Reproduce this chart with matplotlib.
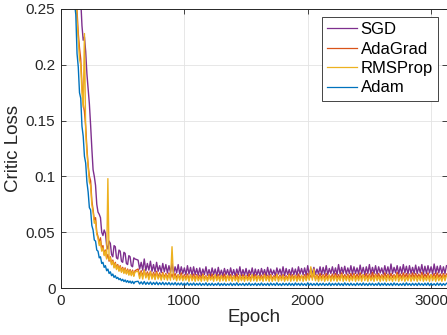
import numpy as np
import matplotlib.pyplot as plt

plt.rcParams['font.family'] = ['Liberation Sans', 'DejaVu Sans']

# Epoch grid: every 10 epochs during the drop, every 12.5 afterwards
epochs = np.concatenate([np.arange(0, 601, 10), np.arange(625, 3125.1, 12.5)])

# Critic loss, in units of 1e-3
sgd = [700, 660, 615, 585, 545, 500, 465, 445, 415, 375, 350, 335, 315, 285, 270, 268,
       258, 235, 222, 225, 212, 192, 178, 165, 146, 125, 106, 100, 92, 75, 68, 66,
       63, 50, 47, 52, 49, 38, 35, 42, 40, 30, 28, 38, 37, 27, 26, 34, 33, 24,
       23, 32, 31, 22, 21, 29, 28, 20, 19, 27, 26,
       25, 17, 23, 16, 26, 15.5, 22, 16, 24, 15, 21, 14.5, 23, 15, 20, 14, 22, 14.5, 21, 13.5,
       20, 14, 22, 13, 19, 13.5, 21, 12.5, 19, 13, 18, 12, 20, 12.5, 18.5, 11.5, 19, 12, 17.5, 11.5,
       18, 11, 17, 12, 19, 11.5, 16.5, 11, 18, 12, 17, 10.5, 18.5, 11.5, 16, 11, 17.5, 12, 16.5, 11,
       18, 11.5, 16.5, 10.5, 17, 12, 19, 11, 16.5, 11.5, 17.5, 11, 16, 12, 18, 10.5, 17, 11.5, 16.5, 11,
       17.5, 12, 16.5, 11, 18.5, 11.5, 17, 12, 16, 11, 18, 12.5, 17, 11.5, 19, 11, 17.5, 12, 16.5, 11.5,
       18, 12, 17, 11.5, 19, 12.5, 17.5, 12, 18, 11.5, 20, 12, 17.5, 12.5, 18.5, 12, 17, 12.5, 19, 12,
       18.5, 12.5, 20, 12, 17.5, 13, 19, 12.5, 18, 12, 21, 12.5, 18.5, 13, 19.5, 12.5, 18, 13, 20, 12.5,
       19, 13, 18, 12.5, 20.5, 13, 18.5, 12, 19, 13, 21, 12.5, 18.5, 13, 20, 12.5, 19, 13.5, 18, 12.5,
       20, 13, 19, 12.5, 21.5, 13, 18.5, 13.5, 20, 12.5, 19, 13, 21, 13.5, 19.5, 12.5, 20, 13, 18.5, 13,
       20.5, 13, 19, 13.5, 21, 12.5, 19.5, 13, 20, 13.5, 19, 12.5, 21.5, 13, 19.5, 13.5, 20, 13, 19, 13,
       20]
adagrad = [660, 620, 578, 540, 505, 462, 425, 395, 372, 340, 312, 292, 278, 248, 228, 215,
           205, 182, 165, 158, 145, 125, 110, 100, 96, 78, 70, 61, 63, 50, 46, 40,
           45, 35, 38, 30, 34, 27, 30, 24, 28, 21, 25, 19, 23, 17.5, 21, 16, 20, 15,
           18.5, 14, 18, 13, 17, 12.5, 16.5, 12, 16, 11, 15.5,
           17, 11, 15.5, 10.5, 16, 10, 14.5, 10.5, 15, 9.5, 14, 10, 15, 9.5, 13.5, 9, 14, 9.5, 13, 9,
           13.5, 9, 12.5, 8.5, 13, 9, 12, 8.5, 13.5, 8, 12, 8.5, 12.5, 8, 11.5, 8.5, 12.5, 8, 12, 8.5,
           11.5, 8, 12.5, 8.5, 11, 7.5, 12, 8, 12.5, 8.5, 11, 8, 12, 7.5, 11.5, 8.5, 12.5, 8, 11, 8,
           12, 7.5, 11, 8.5, 12.5, 8, 11.5, 7.5, 12, 8.5, 11, 8, 12.5, 7.5, 11.5, 8.5, 12, 8, 11, 8.5,
           11.5, 8, 12.5, 7.5, 11.5, 8.5, 12, 8, 11, 9, 12.5, 8, 11.5, 8.5, 12, 7.5, 11, 8.5, 12.5, 8,
           12, 8.5, 11.5, 8, 12.5, 9, 11, 8.5, 12, 8, 13, 8.5, 11.5, 9, 12.5, 8, 12, 8.5, 13, 8.5,
           12, 9, 13, 8.5, 11.5, 9, 12.5, 8.5, 13, 9, 12, 8.5, 13.5, 9, 12, 8.5, 12.5, 9, 13, 8.5,
           13, 9, 12.5, 8.5, 13.5, 9, 12, 9.5, 13, 9, 12.5, 8.5, 14, 9, 12.5, 9.5, 13, 9, 12, 9,
           13.5, 9.5, 12.5, 9, 13, 9.5, 12, 9, 14, 9.5, 12.5, 9, 13.5, 9.5, 13, 9, 12.5, 9.5, 13.5, 9,
           13, 9.5, 12.5, 9, 14, 9, 12.5, 9.5, 13.5, 9, 12, 9.5, 13, 9, 13.5, 9.5, 12.5, 9, 13, 9.5,
           12.5]
rmsprop = [650, 610, 565, 530, 495, 450, 415, 385, 365, 330, 305, 285, 270, 240, 222, 205,
           200, 175, 162, 228, 140, 122, 108, 95, 92, 75, 68, 58, 60, 48, 45, 38,
           42, 33, 36, 29, 33, 26, 98, 25, 27, 21, 24, 18, 22, 16.5, 20, 15, 19, 14,
           17.5, 13, 17, 12.5, 16, 11.5, 15.5, 11, 15, 10.5, 14.5,
           15, 8.5, 14, 8, 16, 9, 13, 7.5, 14.5, 8, 12.5, 7.5, 13.5, 8, 12, 7, 13, 7.5, 12, 7,
           12.5, 7, 37, 7.5, 11, 6.5, 12, 7, 11.5, 6.5, 10.5, 7, 11, 6, 12, 6.5, 10.5, 6, 11, 6.5,
           10, 6, 11.5, 6.5, 10.5, 6, 11, 7, 10, 6, 12, 6.5, 10.5, 6, 11, 6.5, 10, 6, 11.5, 6.5,
           10.5, 6, 11, 6.5, 10, 5.5, 11.5, 6.5, 10.5, 6, 11, 6.5, 10, 6, 12, 6.5, 10.5, 6, 11, 6.5,
           10, 6, 11.5, 6.5, 10.5, 6, 11, 6, 10, 6.5, 12, 6, 10.5, 6.5, 11, 6, 10, 6.5, 11.5, 6,
           10.5, 6.5, 11, 6, 10, 6.5, 11.5, 6, 10.5, 6.5, 11, 7, 19, 7, 17, 6.5, 11, 6, 10.5, 6.5,
           11, 6, 10, 6.5, 11.5, 6, 10.5, 6.5, 11, 6, 10, 6.5, 12, 6, 10.5, 6.5, 11, 6, 10, 6.5,
           11.5, 6, 10.5, 6.5, 11, 6, 12, 6.5, 10.5, 6, 11, 6.5, 10, 6, 11.5, 6.5, 10.5, 6, 11, 6.5,
           10.5, 6, 11.5, 6.5, 10, 6, 11, 6.5, 12, 6, 10.5, 6.5, 11, 6, 10, 6.5, 11.5, 6, 10.5, 6.5,
           11, 6, 10.5, 6.5, 11.5, 6, 10, 6.5, 11, 6, 12, 6.5, 10.5, 6, 11, 6.5, 10, 6, 11.5, 6.5,
           11]
adam = [600, 560, 515, 490, 455, 415, 385, 350, 335, 300, 285, 255, 245, 210, 198, 175,
        170, 145, 136, 118, 112, 95, 86, 72, 70, 56, 52, 43, 42, 34, 33, 27,
        28, 22, 23, 18.5, 20, 15.5, 17, 13, 14.5, 11, 12.5, 9.5, 11, 8.5, 9.5, 7.5, 8.5, 6.5,
        7.8, 5.8, 7.2, 5.2, 6.6, 4.8, 6.2, 4.3, 6, 3.9, 5.6,
        6, 3.6, 5.5, 3.4, 5.8, 3.2, 5.2, 3.3, 5.4, 3, 5, 3.1, 5.3, 2.9, 4.8, 3, 5.1, 2.8, 4.7, 2.9,
        4.9, 2.7, 4.5, 2.8, 4.8, 2.6, 4.4, 2.7, 4.6, 2.5, 4.3, 2.6, 4.7, 2.4, 4.2, 2.5, 4.5, 2.4, 4.1, 2.6,
        4.4, 2.3, 4, 2.5, 4.6, 2.2, 4.1, 2.4, 4.3, 2.3, 3.9, 2.5, 4.5, 2.2, 4, 2.4, 4.2, 2.3, 3.8, 2.5,
        4.4, 2.2, 4, 2.4, 4.6, 2.3, 3.9, 2.5, 4.2, 2.2, 4.1, 2.4, 4.5, 2.3, 3.8, 2.5, 4.3, 2.2, 4, 2.4,
        4.5, 2.3, 3.9, 2.4, 4.2, 2.2, 4.4, 2.5, 4, 2.3, 4.6, 2.4, 3.9, 2.2, 4.3, 2.5, 4.1, 2.3, 4.4, 2.4,
        4, 2.2, 4.5, 2.5, 4.1, 2.3, 4.3, 2.4, 3.9, 2.2, 4.6, 2.5, 4.2, 2.3, 4, 2.4, 4.4, 2.2, 4.1, 2.5,
        4.3, 2.3, 3.9, 2.4, 4.5, 2.2, 4.1, 2.5, 4.2, 2.3, 4.4, 2.4, 4, 2.2, 4.6, 2.5, 4.1, 2.3, 4.3, 2.4,
        3.9, 2.2, 4.4, 2.5, 4.1, 2.3, 4.5, 2.4, 4, 2.2, 4.3, 2.5, 4.2, 2.3, 3.9, 2.4, 4.6, 2.2, 4.1, 2.5,
        4.4, 2.3, 4, 2.4, 4.2, 2.2, 4.5, 2.5, 4.1, 2.3, 3.9, 2.4, 4.3, 2.2, 4.6, 2.5, 4, 2.3, 4.2, 2.4,
        4.1, 2.2, 4.4, 2.5, 4, 2.3, 4.3, 2.4, 4.5, 2.2, 4.1, 2.5, 3.9, 2.3, 4.4, 2.4, 4.2, 2.2, 4, 2.5,
        4.2]

labels = ['SGD', 'AdaGrad', 'RMSProp', 'Adam']
colors = ['#7E2F8E', '#D95319', '#EDB120', '#0072BD']
dark = '#262626'

fig = plt.figure(figsize=(4.47, 3.35), dpi=100)
ax = fig.add_axes([61 / 447, 47 / 335, 385.5 / 447, 279 / 335])

for y, lab, c in zip([sgd, adagrad, rmsprop, adam], labels, colors):
    ax.plot(epochs, np.array(y) / 1000, color=c, lw=1.0, label=lab)

ax.set_xlim(0, 3125)
ax.set_ylim(0, 0.25)
ax.set_xticks([0, 1000, 2000, 3000])
ax.set_yticks([0, 0.05, 0.1, 0.15, 0.2, 0.25])
ax.set_yticklabels(['0', '0.05', '0.1', '0.15', '0.2', '0.25'])
ax.grid(True, color='#e3e3e3', lw=0.6)
ax.set_axisbelow(True)
ax.tick_params(direction='in', length=3.5, width=0.6, top=True, right=True,
               labelsize=11, colors=dark, pad=4)
for s in ax.spines.values():
    s.set_color(dark)
    s.set_linewidth(0.7)

ax.set_xlabel('Epoch', fontsize=13.5, color=dark, labelpad=1)
ax.set_ylabel('Critic Loss', fontsize=13.5, color=dark, labelpad=3)

leg = ax.legend(loc='upper right', bbox_to_anchor=(438 / 447, 1 - 17 / 335),
                bbox_transform=fig.transFigure, fontsize=12, frameon=True,
                fancybox=False, framealpha=1, edgecolor=dark, borderaxespad=0,
                handlelength=1.75, handletextpad=0.25, labelspacing=0.27,
                borderpad=0.3)
leg.get_frame().set_linewidth(0.6)
for line in leg.get_lines():
    line.set_linewidth(0.9)
for t in leg.get_texts():
    t.set_color('black')

fig.savefig('out.png', dpi=100)
